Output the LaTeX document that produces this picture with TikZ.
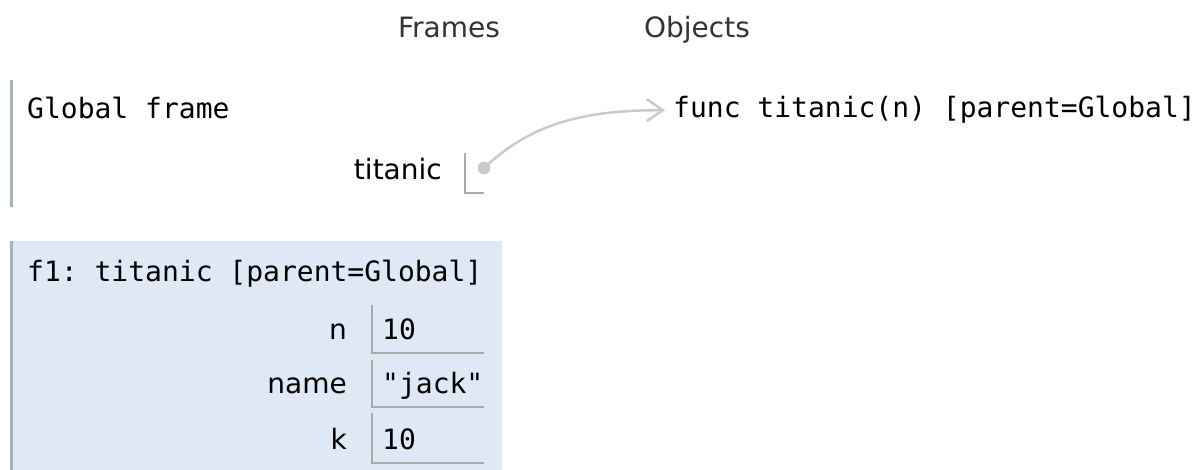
\documentclass[tikz,border=0pt]{standalone}
\usepackage{fontspec}
\setmainfont{DejaVu Sans}
\setmonofont{DejaVu Sans Mono}
\usetikzlibrary{arrows.meta}
\definecolor{framebg}{HTML}{DEE9F5}
\definecolor{frameedge}{HTML}{A6B3B6}
\definecolor{boxedge}{HTML}{AAAAAA}
\definecolor{ptrgray}{HTML}{CACACA}
\begin{document}
\begin{tikzpicture}[x=1pt, y=-1pt, inner sep=0pt,
    head/.style={anchor=base, text=black!80, font=\fontsize{28}{32}\selectfont},
    code/.style={anchor=base west, text=black, font=\ttfamily\fontsize{28}{32}\selectfont},
    varname/.style={anchor=base east, text=black, font=\fontsize{28}{32}\selectfont},
    valbox/.style={boxedge, line width=2pt},
    edge/.style={frameedge, line width=2.5pt},
    pointer/.style={ptrgray, line width=2.5pt, -{Straight Barb[length=16pt, width=22pt]}}]
  \useasboundingbox (0,0) rectangle (1204,470);
  \node[head] (frames) at (449,38) {Frames};
  \node[head] (objects) at (697,38) {Objects};
  % global frame
  \draw[edge] (11.5,80) -- (11.5,207);
  \node[code] (glob) at (27,119) {Global frame};
  \node[varname] (titanicvar) at (442,180) {titanic};
  \draw[valbox] (465,153) -- (465,193) -- (484,193);
  \node[circle, fill=ptrgray, minimum size=13pt] (tdot) at (484,168) {};
  \node[code] (func) at (673,118) {func titanic(n) [parent=Global]};
  \draw[pointer, shorten >=8pt] (tdot.center) .. controls (525,130) and (570,110) .. (func.west);
  % f1 frame
  \fill[framebg] (11,241) rectangle (502,470);
  \draw[edge] (11.5,241) -- (11.5,470);
  \node[code] (f1) at (27,282) {f1: titanic [parent=Global]};
  \foreach \rn/\rlab/\rval/\rtop/\rbot in {1/n/10/305/353, 2/name/"jack"/360/407, 3/k/10/413/463}
  {
    \draw[valbox] (372,\rtop) -- (372,\rbot) -- (484,\rbot);
    \node[varname] (var\rn) at (347,\rbot-14) {\rlab};
    \node[code] (val\rn) at (382,\rbot-14) {\rval};
  }
\end{tikzpicture}
\end{document}
